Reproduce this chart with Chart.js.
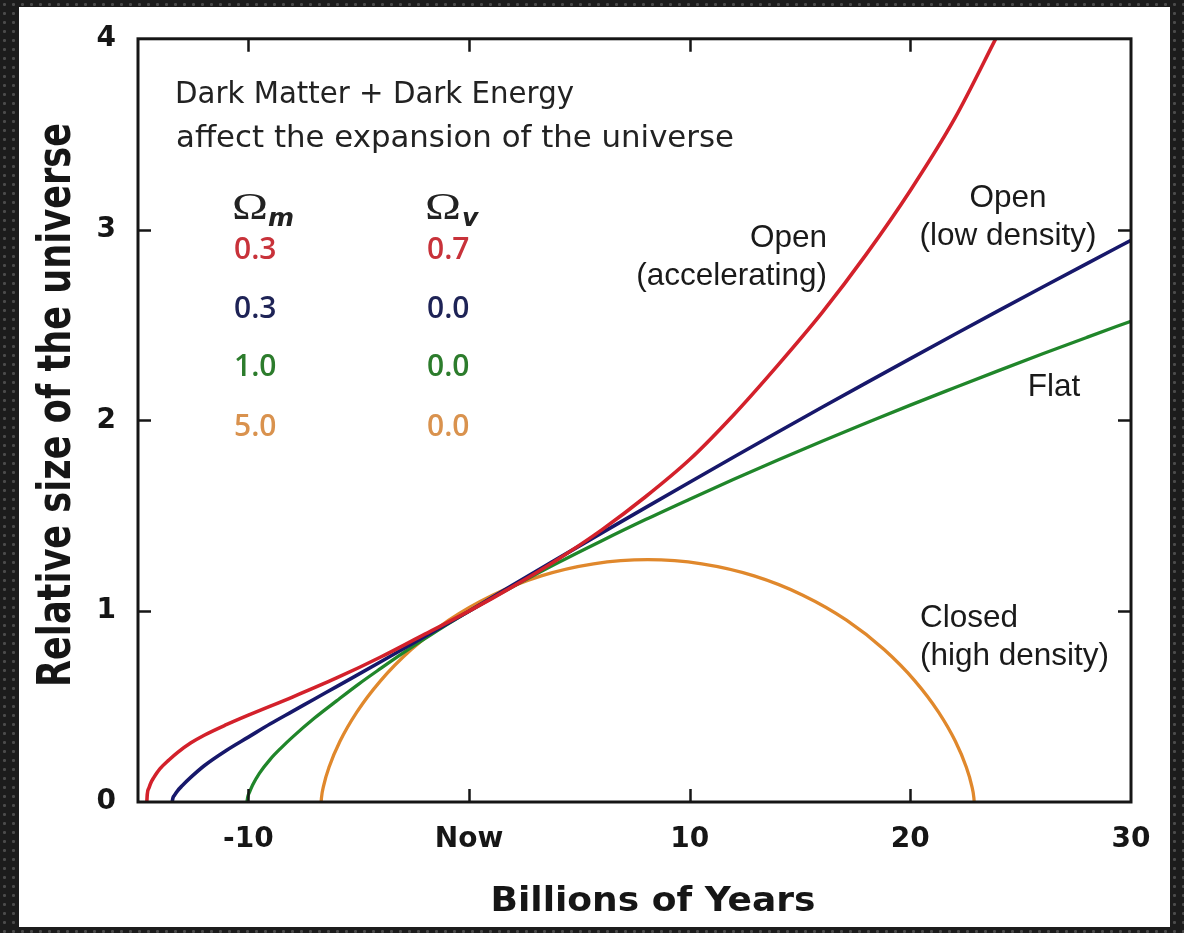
<!DOCTYPE html>
<html><head><meta charset="utf-8">
<script src="https://cdn.jsdelivr.net/npm/chart.js@4/dist/chart.umd.min.js"></script>
<style>
html,body{margin:0;padding:0;}
body{width:1184px;height:933px;overflow:hidden;background-color:#1c1c1c;
background-image:radial-gradient(circle at 50% 50%, #4b4b4b 0, #4b4b4b 1.2px, transparent 1.9px);background-size:9px 9px;}
#wrap{position:absolute;left:0;top:0;width:1184px;height:933px;}
</style></head><body>
<div id="wrap"><canvas id="c" width="1184" height="933"></canvas></div>
<script>
// ---- data ----
const xTickValues = [-10, 0, 10, 20, 30];
const xTickLabels = ['-10', 'Now', '10', '20', '30'];
const yTickValues = [0, 1, 2, 3, 4];
const yTickLabels = ['0', '1', '2', '3', '4'];

const seriesNames = ['Open (accelerating)', 'Open (low density)', 'Flat', 'Closed (high density)'];
const omegaM = ['0.3', '0.3', '1.0', '5.0'];
const omegaV = ['0.7', '0.0', '0.0', '0.0'];

const redX = [-14.6,-14.58,-14.5,-14.4,-14.3,-14.15,-14,-13.6,-13.2,-12.6,-12,-11,-10,-8,-6,-4,-2,0,2,4,6,8,10,12,14,16,18,20,22,24];
const redY = [0,0.04,0.075,0.105,0.125,0.152,0.175,0.22,0.26,0.31,0.35,0.405,0.455,0.55,0.65,0.76,0.88,1,1.13,1.27,1.425,1.6,1.795,2.03,2.29,2.565,2.87,3.205,3.58,4.03];

const blueX = [-13.45,-13.42,-13.35,-13.2,-13,-12.6,-12,-11,-10,-9,-8,-7,-6,-4,-2,0,2,4,6,8,10,12,14,16,18,20,22,24,26,28,30];
const blueY = [0,0.02,0.035,0.06,0.085,0.13,0.19,0.27,0.34,0.41,0.475,0.54,0.605,0.735,0.868,1,1.138,1.274,1.409,1.543,1.676,1.808,1.939,2.069,2.197,2.324,2.45,2.575,2.699,2.822,2.944];

const greenX = [-10.06,-10.03,-9.95,-9.8,-9.5,-9,-8.5,-8,-7,-6,-5,-4,-3,-2,-1,0,2,4,6,8,10,12,14,16,18,20,22,24,26,28,30];
const greenY = [0,0.025,0.05,0.09,0.15,0.225,0.285,0.34,0.44,0.53,0.618,0.7,0.78,0.856,0.93,1,1.129,1.252,1.368,1.48,1.587,1.692,1.793,1.891,1.986,2.08,2.171,2.261,2.349,2.435,2.52];

const orangeX = [-6.7,-6.686,-6.589,-6.331,-5.847,-5.084,-4.011,-2.618,-0.914,1.067,3.276,5.645,8.097,10.549,12.918,15.127,17.108,18.812,20.205,21.278,22.041,22.525,22.783,22.88,22.894];
const orangeY = [0,0.022,0.085,0.186,0.318,0.471,0.635,0.799,0.953,1.084,1.185,1.248,1.27,1.248,1.185,1.084,0.953,0.799,0.635,0.471,0.318,0.186,0.085,0.022,0];

// ---- styles ----
const lineColors = ['#d3212b', '#17186b', '#20862a', '#e0882c'];
const valueColors = ['#c8323a', '#1e2356', '#2c7c2c', '#d9924e'];
const INK = '#161616';

function pts(xs, ys) { return xs.map((x, i) => ({ x: x, y: ys[i] })); }

function fitText(ctx, text, x, y, width, align) {
  const w = ctx.measureText(text).width;
  const s = width / w;
  ctx.save();
  ctx.translate(x, y);
  ctx.scale(s, 1);
  ctx.textAlign = align || 'left';
  ctx.fillText(text, 0, 0);
  ctx.restore();
}

const decor = {
  id: 'decor',
  beforeDraw(chart) {
    const ctx = chart.ctx;
    ctx.save();
    ctx.fillStyle = '#ffffff';
    ctx.fillRect(19, 7, 1151, 920);
    ctx.restore();
  },
  afterDatasetsDraw(chart) {
    const ctx = chart.ctx, a = chart.chartArea;
    const xs = chart.scales.x, ys = chart.scales.y;
    ctx.save();
    ctx.strokeStyle = INK;
    ctx.lineWidth = 3;
    ctx.strokeRect(a.left, a.top, a.right - a.left, a.bottom - a.top);
    ctx.lineWidth = 2.5;
    const tl = 13;
    ctx.beginPath();
    xTickValues.forEach(v => {
      if (v <= xs.min || v >= xs.max) return;
      const px = Math.round(xs.getPixelForValue(v)) + 0.5;
      ctx.moveTo(px, a.bottom); ctx.lineTo(px, a.bottom - tl);
      ctx.moveTo(px, a.top); ctx.lineTo(px, a.top + tl);
    });
    yTickValues.forEach(v => {
      if (v <= ys.min || v >= ys.max) return;
      const py = Math.round(ys.getPixelForValue(v)) + 0.5;
      ctx.moveTo(a.left, py); ctx.lineTo(a.left + tl, py);
      ctx.moveTo(a.right, py); ctx.lineTo(a.right - tl, py);
    });
    ctx.stroke();
    ctx.restore();
  },
  afterDraw(chart) {
    const ctx = chart.ctx;
    ctx.save();
    ctx.fillStyle = '#222';
    ctx.textBaseline = 'alphabetic';
    // caption
    ctx.font = "30px 'DejaVu Sans', sans-serif";
    fitText(ctx, 'Dark Matter + Dark Energy', 175, 103, 399, 'left');
    fitText(ctx, 'affect the expansion of the universe', 176, 147, 558, 'left');

    // Omega headers
    ctx.fillStyle = '#222';
    ctx.font = "38px 'Liberation Serif', 'DejaVu Serif', serif";
    fitText(ctx, '\u03A9', 232, 219, 36, 'left');
    fitText(ctx, '\u03A9', 425, 219, 36, 'left');
    ctx.font = "italic bold 25px 'DejaVu Sans', sans-serif";
    ctx.textAlign = 'left';
    ctx.fillText('m', 268, 226);
    ctx.fillText('v', 462, 226);

    // Omega values
    ctx.font = "600 30px 'Open Sans', 'DejaVu Sans', sans-serif";
    const rowBase = [259, 318, 376, 436];
    omegaM.forEach((t, i) => {
      ctx.fillStyle = valueColors[i];
      ctx.fillText(t, 234, rowBase[i]);
      ctx.fillText(omegaV[i], 427, rowBase[i]);
    });

    // curve labels
    ctx.fillStyle = '#1a1a1a';
    ctx.font = "31.5px 'Liberation Sans', Arial, sans-serif";
    ctx.textAlign = 'right';
    ctx.fillText('Open', 827, 247);
    ctx.fillText('(accelerating)', 827, 285);
    ctx.textAlign = 'center';
    ctx.fillText('Open', 1008, 207);
    ctx.fillText('(low density)', 1008, 245);
    ctx.fillText('Flat', 1054, 396);
    ctx.textAlign = 'left';
    ctx.fillText('Closed', 920, 627);
    ctx.fillText('(high density)', 920, 665);

    // axis titles
    ctx.fillStyle = INK;
    ctx.font = "bold 34px 'DejaVu Sans', sans-serif";
    fitText(ctx, 'Billions of Years', 653, 911, 325, 'center');
    ctx.save();
    ctx.translate(70, 405);
    ctx.rotate(-Math.PI / 2);
    ctx.font = "bold 46px 'DejaVu Sans', sans-serif";
    fitText(ctx, 'Relative size of the universe', 0, 0, 564, 'center');
    ctx.restore();
    ctx.restore();
  }
};

const tickFont = { family: "'DejaVu Sans', sans-serif", size: 28, weight: 'bold' };

new Chart(document.getElementById('c'), {
  type: 'line',
  data: {
    datasets: [
      { label: seriesNames[0], data: pts(redX, redY), borderColor: lineColors[0], borderWidth: 3.6 },
      { label: seriesNames[1], data: pts(blueX, blueY), borderColor: lineColors[1], borderWidth: 3.6 },
      { label: seriesNames[2], data: pts(greenX, greenY), borderColor: lineColors[2], borderWidth: 3.3 },
      { label: seriesNames[3], data: pts(orangeX, orangeY), borderColor: lineColors[3], borderWidth: 3.3 }
    ]
  },
  options: {
    responsive: false,
    animation: false,
    elements: { point: { radius: 0, hoverRadius: 0 }, line: { cubicInterpolationMode: 'monotone', fill: false } },
    layout: { padding: { left: 0, top: 33, right: 53, bottom: 0 } },
    plugins: { legend: { display: false }, tooltip: { enabled: false } },
    scales: {
      x: {
        type: 'linear', min: -15, max: 30,
        afterBuildTicks: s => { s.ticks = xTickValues.map(v => ({ value: v })); },
        afterFit: s => { s.height = 131; },
        ticks: {
          callback: v => xTickLabels[xTickValues.indexOf(v)],
          font: tickFont, color: INK, padding: 21, maxRotation: 0, autoSkip: false
        },
        grid: { display: false, drawTicks: false },
        border: { display: false }
      },
      y: {
        type: 'linear', min: 0, max: 4,
        afterBuildTicks: s => { s.ticks = yTickValues.map(v => ({ value: v })); },
        afterFit: s => { s.width = 138; },
        ticks: {
          callback: v => yTickLabels[yTickValues.indexOf(v)],
          font: tickFont, color: INK, padding: 22
        },
        grid: { display: false, drawTicks: false },
        border: { display: false }
      }
    }
  },
  plugins: [decor]
});
</script></body></html>
